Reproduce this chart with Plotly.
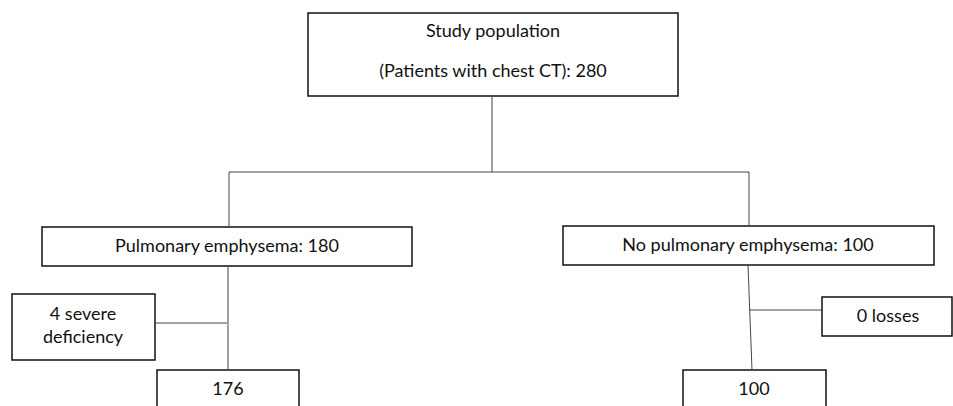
import plotly.graph_objects as go

# Data
counts = [280, 180, 100, 4, 0, 176, 100]

box_text = [
    "Study population",
    f"(Patients with chest CT): {counts[0]}",
    f"Pulmonary emphysema: {counts[1]}",
    f"No pulmonary emphysema: {counts[2]}",
    f"{counts[3]} severe<br>deficiency",
    f"{counts[4]} losses",
    f"{counts[5]}",
    f"{counts[6]}",
]
# layout geometry (pixels): x0, x1, y0, y1
boxes = [
    (308, 678, 13, 96),
    (42, 412, 227, 266),
    (563, 934, 226, 265),
    (12, 155, 294, 360),
    (822, 952, 297, 336),
    (157, 299, 370, 420),
    (683, 826, 370, 420),
]
text_pos = [(493, 32), (493, 72), (227, 247), (748, 246), (83, 327), (888, 317), (228, 390), (754, 390)]
connectors = [
    (492, 96, 492, 172),
    (229, 172, 749, 172),
    (229, 172, 229, 227),
    (749, 172, 749, 226),
    (228, 266, 228, 370),
    (155, 323, 227, 323),
    (748, 265, 752, 370),
    (749, 310, 822, 310),
]

fig = go.Figure()
shapes = []
for (x0, x1, y0, y1) in boxes:
    shapes.append(dict(type="rect", xref="x", yref="y", x0=x0, x1=x1, y0=y0, y1=y1,
                       layer="below",
                       line=dict(color="#111111", width=1.5), fillcolor="white"))
for (x0, y0, x1, y1) in connectors:
    shapes.append(dict(type="line", xref="x", yref="y", x0=x0, y0=y0, x1=x1, y1=y1,
                       layer="below",
                       line=dict(color="#444444", width=1)))

fig.add_trace(go.Scatter(
    x=[p[0] for p in text_pos], y=[p[1] for p in text_pos],
    text=box_text, mode="text",
    textfont=dict(family="Lato, Open Sans, sans-serif", size=18, color="#111111"),
    hoverinfo="skip", showlegend=False,
))

fig.update_layout(
    width=953, height=406,
    margin=dict(l=0, r=0, t=0, b=0),
    paper_bgcolor="white", plot_bgcolor="white",
    shapes=shapes,
    xaxis=dict(range=[0, 953], visible=False, fixedrange=True),
    yaxis=dict(range=[406, 0], visible=False, fixedrange=True),
    showlegend=False,
)
fig.write_html("out.html", config={"displayModeBar": False},
               post_script="document.body.style.margin='0';document.body.style.overflow='hidden';")
